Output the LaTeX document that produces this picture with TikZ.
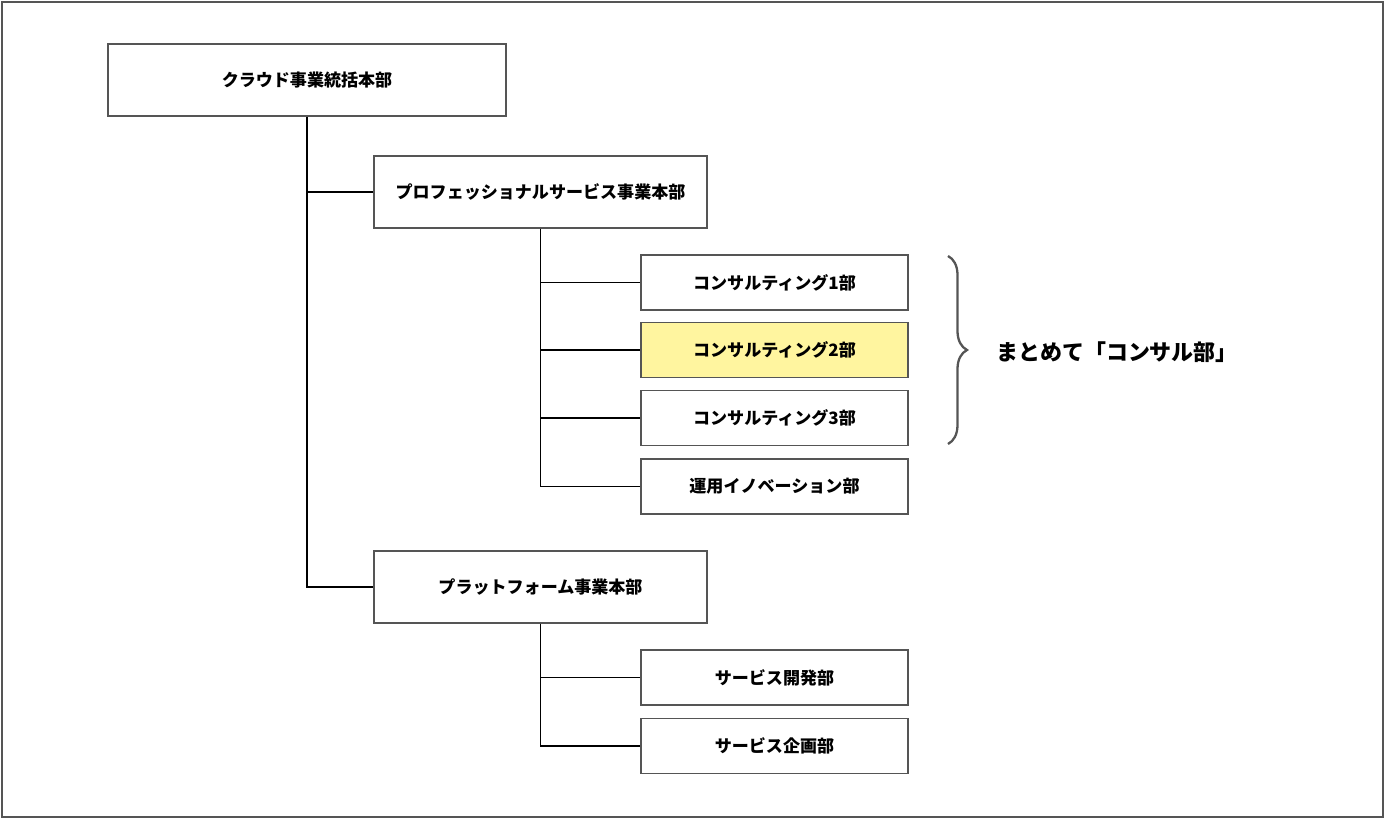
\documentclass[tikz,border=0pt]{standalone}
\usepackage{fontspec}
\setmainfont{Noto Sans CJK JP}
\usetikzlibrary{positioning}
\usetikzlibrary{decorations.pathreplacing}
\definecolor{boxgray}{HTML}{555555}
\definecolor{hiyellow}{HTML}{FFF59F}

\begin{document}
\begin{tikzpicture}[font=\bfseries\fontsize{9.7}{11}\selectfont,
    dept/.style={rectangle,draw=boxgray,line width=1.1pt,fill=white,minimum width=5.34cm,minimum height=1.1cm,inner sep=0pt},
    hq/.style={dept,minimum width=6.66cm,minimum height=1.44cm},
    link/.style={black,line width=0.6pt}]

            % \draw [help lines] (0,0) grid (28,-16);

            \useasboundingbox (0,0) rectangle (27.7,-16.38);
            \draw[boxgray,line width=1.1pt] (0.04,-0.04) rectangle (27.66,-16.34);

            \path   (6.14,-1.6) node (top) [hq,minimum width=7.96cm] {クラウド事業統括本部}

                    (10.81,-3.84) node (pro) [hq] {プロフェッショナルサービス事業本部}
                    (15.49,-5.65) node (con1) [dept] {コンサルティング1部}
                    (15.49,-7.0) node (con2) [dept,fill=hiyellow] {コンサルティング2部}
                    (15.49,-8.36) node (con3) [dept] {コンサルティング3部}
                    (15.49,-9.73) node (ops) [dept] {運用イノベーション部}

                    (10.81,-11.74) node (plat) [hq] {プラットフォーム事業本部}
                    (15.49,-13.55) node (dev) [dept] {サービス開発部}
                    (15.49,-14.92) node (plan) [dept] {サービス企画部};

            \draw[link] (top.south) |- (pro.west);
            \draw[link] (top.south) |- (plat.west);

            \draw[link] (pro.south) |- (con1.west);
            \draw[link] (pro.south) |- (con2.west);
            \draw[link] (pro.south) |- (con3.west);
            \draw[link] (pro.south) |- (ops.west);

            \draw[link] (plat.south) |- (dev.west);
            \draw[link] (plat.south) |- (plan.west);

            \coordinate (bt) at (18.96,-5.12);
            \coordinate (bb) at (18.96,-8.88);
            \draw[boxgray,line width=1.3pt,decorate,decoration={brace,amplitude=0.38cm}] (bt) -- (bb);

            \node (sum) [anchor=west,font=\bfseries\fontsize{12.5}{14}\selectfont] at (19.8,-7.04)
            {まとめて「コンサル部」};
        \end{tikzpicture}
\end{document}
